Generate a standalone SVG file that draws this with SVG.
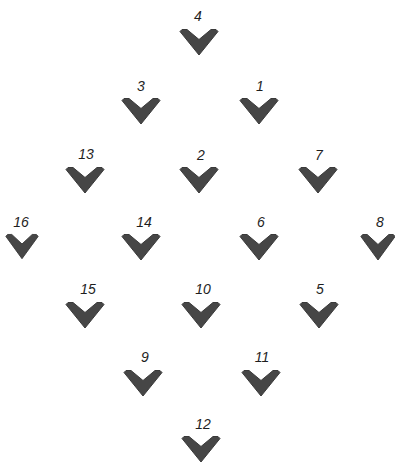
<svg xmlns="http://www.w3.org/2000/svg" xmlns:xlink="http://www.w3.org/1999/xlink" width="395" height="463" viewBox="0 0 395 463">
<style>
.lbl{font-family:"Liberation Sans","DejaVu Sans",sans-serif;font-style:italic;font-size:14px;fill:#1e1e1e;text-anchor:middle}
.chev{fill:#464646;stroke:#3a3a3a;stroke-width:1;stroke-linejoin:round}
</style>
<defs>
<path id="chev" class="chev" d="M-19,2.5 L-17,0.5 L-12,0.5 L0,10.5 L12,0.5 L17,0.5 L19,2.5 L0,26 Z"/>
</defs>
<rect width="395" height="463" fill="#ffffff"/>
<g id="connectors"></g>
<g id="n4"><use xlink:href="#chev" href="#chev" x="199" y="29"/><text class="lbl" x="198" y="21">4</text></g>
<g id="n3"><use href="#chev" x="141" y="98"/><text class="lbl" x="141" y="91">3</text></g>
<g id="n1"><use href="#chev" x="259" y="98"/><text class="lbl" x="260" y="91">1</text></g>
<g id="n13"><use href="#chev" x="85" y="167"/><text class="lbl" x="86" y="159">13</text></g>
<g id="n2"><use href="#chev" x="199" y="167"/><text class="lbl" x="201" y="160">2</text></g>
<g id="n7"><use href="#chev" x="318" y="167"/><text class="lbl" x="319" y="160">7</text></g>
<g id="n16"><use href="#chev" transform="translate(22,234) scale(0.85,0.95)"/><text class="lbl" x="21" y="227">16</text></g>
<g id="n14"><use href="#chev" x="141" y="234"/><text class="lbl" x="144" y="227">14</text></g>
<g id="n6"><use href="#chev" x="259" y="234"/><text class="lbl" x="261" y="227">6</text></g>
<g id="n8"><use href="#chev" transform="translate(378,234) scale(0.9,1)"/><text class="lbl" x="380" y="227">8</text></g>
<g id="n15"><use href="#chev" x="85" y="302"/><text class="lbl" x="88" y="294">15</text></g>
<g id="n10"><use href="#chev" x="201" y="302"/><text class="lbl" x="203" y="294">10</text></g>
<g id="n5"><use href="#chev" x="319" y="302"/><text class="lbl" x="320" y="294">5</text></g>
<g id="n9"><use href="#chev" x="143" y="370"/><text class="lbl" x="145" y="362">9</text></g>
<g id="n11"><use href="#chev" x="261" y="370"/><text class="lbl" x="262" y="362">11</text></g>
<g id="n12"><use href="#chev" x="201" y="436"/><text class="lbl" x="203" y="429">12</text></g>
</svg>
